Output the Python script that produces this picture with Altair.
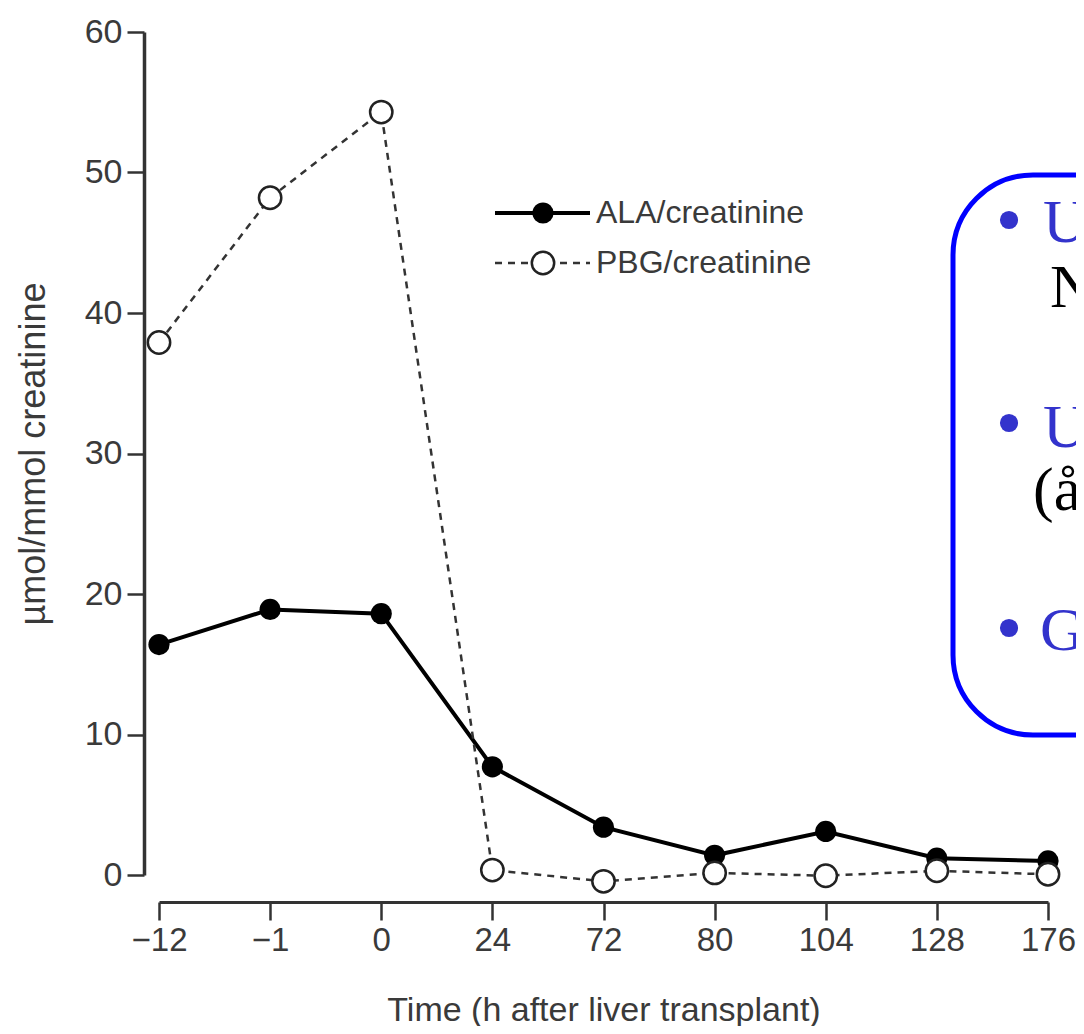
import altair as alt
import pandas as pd

# ---- data ----
times = ["\u221212", "\u22121", "0", "24", "72", "80", "104", "128", "176"]
ala = [16.4, 18.9, 18.6, 7.7, 3.4, 1.4, 3.1, 1.2, 1.0]
pbg = [37.9, 48.2, 54.3, 0.35, -0.45, 0.15, -0.05, 0.3, 0.05]
series_names = ["ALA/creatinine", "PBG/creatinine"]
y_ticks = [0, 10, 20, 30, 40, 50, 60]
x_title = "Time (h after liver transplant)"
y_title = "\u00b5mol/mmol creatinine"
box_blue_text = ["U", "U", "G"]
box_black_text = ["N", "(\u00e5"]

df = pd.DataFrame({"time": times, "ala": ala, "pbg": pbg})
one = pd.DataFrame({"k": [0]})

W, H = 889, 843
LABEL_FONT = "Liberation Sans"
TXT = "#3a3a3a"

xenc = alt.X(
    "time:N",
    scale=alt.Scale(type="point", domain=times, padding=0),
    axis=alt.Axis(
        title=x_title, offset=27, domainWidth=3, domainColor="#333", tickColor="#333",
        tickWidth=2.5, tickSize=18, labelFontSize=33, labelFont=LABEL_FONT, labelColor=TXT,
        labelPadding=4, labelAngle=0, titleFont=LABEL_FONT, titleFontSize=34,
        titleFontWeight="normal", titleColor=TXT, titlePadding=36, grid=False,
    ),
)

def yenc(field):
    return alt.Y(
        f"{field}:Q",
        scale=alt.Scale(domain=[0, 60], nice=False, zero=False),
        axis=alt.Axis(
            title=y_title, values=y_ticks, offset=15, domainWidth=3.5, domainColor="#333",
            tickColor="#333", tickWidth=2.5, tickSize=17, labelFontSize=34, labelFont=LABEL_FONT,
            labelColor=TXT, labelPadding=5, titleFont=LABEL_FONT, titleFontSize=36,
            titleFontWeight="normal", titleColor=TXT, titlePadding=32, grid=False,
        ),
    )

base = alt.Chart(df)

ala_line = base.mark_line(color="black", strokeWidth=4).encode(x=xenc, y=yenc("ala"))
ala_pts = base.mark_point(filled=True, color="black", size=450, opacity=1).encode(x=xenc, y=yenc("ala"))
pbg_line = base.mark_line(color="#333", strokeWidth=2.5, strokeDash=[7, 6]).encode(x=xenc, y=yenc("pbg"))
pbg_pts = base.mark_point(filled=False, fill="white", fillOpacity=1, stroke="#222", strokeWidth=2.5,
                          size=500, opacity=1).encode(x=xenc, y=yenc("pbg"))

# ---- legend (manual) ----
oc = alt.Chart(one)
leg_y = [181, 231]
leg_line1 = oc.mark_rule(color="black", strokeWidth=4).encode(
    x=alt.value(336), x2=alt.value(431), y=alt.value(leg_y[0]))
leg_pt1 = oc.mark_point(filled=True, color="black", size=450, opacity=1).encode(
    x=alt.value(384), y=alt.value(leg_y[0]))
leg_line2 = oc.mark_rule(color="#333", strokeWidth=2.5, strokeDash=[7, 6]).encode(
    x=alt.value(336), x2=alt.value(431), y=alt.value(leg_y[1]))
leg_pt2 = oc.mark_point(filled=False, fill="white", fillOpacity=1, stroke="#222", strokeWidth=2.5,
                        size=500, opacity=1).encode(x=alt.value(384), y=alt.value(leg_y[1]))
leg_t1 = oc.mark_text(align="left", baseline="middle", font=LABEL_FONT, fontSize=32, color=TXT).encode(
    x=alt.value(437), y=alt.value(leg_y[0]), text=alt.value(series_names[0]))
leg_t2 = oc.mark_text(align="left", baseline="middle", font=LABEL_FONT, fontSize=32, color=TXT).encode(
    x=alt.value(437), y=alt.value(leg_y[1]), text=alt.value(series_names[1]))

# ---- blue rounded box with clipped slide text ----
box = oc.mark_rect(fill="white", stroke="#0000FF", strokeWidth=5, cornerRadius=80).encode(
    x=alt.value(794), x2=alt.value(1100), y=alt.value(143), y2=alt.value(703))

SERIF = "Liberation Serif"
BLUE = "#3333CC"
bullet_rows = [210, 415, 618]
bullet_centers = [188, 391, 596]
bullets = [oc.mark_point(filled=True, shape="circle", color=BLUE, size=330, opacity=1).encode(
    x=alt.value(850), y=alt.value(yy)) for yy in bullet_centers]
blue_txt = [oc.mark_text(align="left", baseline="alphabetic", font=SERIF, fontSize=62, color=BLUE).encode(
    x=alt.value(xx), y=alt.value(yy), text=alt.value(t))
    for t, xx, yy in zip(box_blue_text, [884, 884, 881], bullet_rows)]
black_txt = [oc.mark_text(align="left", baseline="alphabetic", font=SERIF, fontSize=62, color="black").encode(
    x=alt.value(xx), y=alt.value(yy), text=alt.value(t))
    for t, xx, yy in zip(box_black_text, [891, 874], [275, 478])]

chart = alt.layer(
    ala_line, ala_pts, pbg_line, pbg_pts,
    leg_line1, leg_pt1, leg_line2, leg_pt2, leg_t1, leg_t2,
    box, *bullets, *blue_txt, *black_txt,
).properties(
    width=W, height=H,
    autosize=alt.AutoSizeParams(type="none"),
    padding={"left": 151, "top": 24, "right": 28, "bottom": 151},
).configure_view(stroke=None)

chart.save("out.html", embed_options={"renderer": "svg", "actions": False})
